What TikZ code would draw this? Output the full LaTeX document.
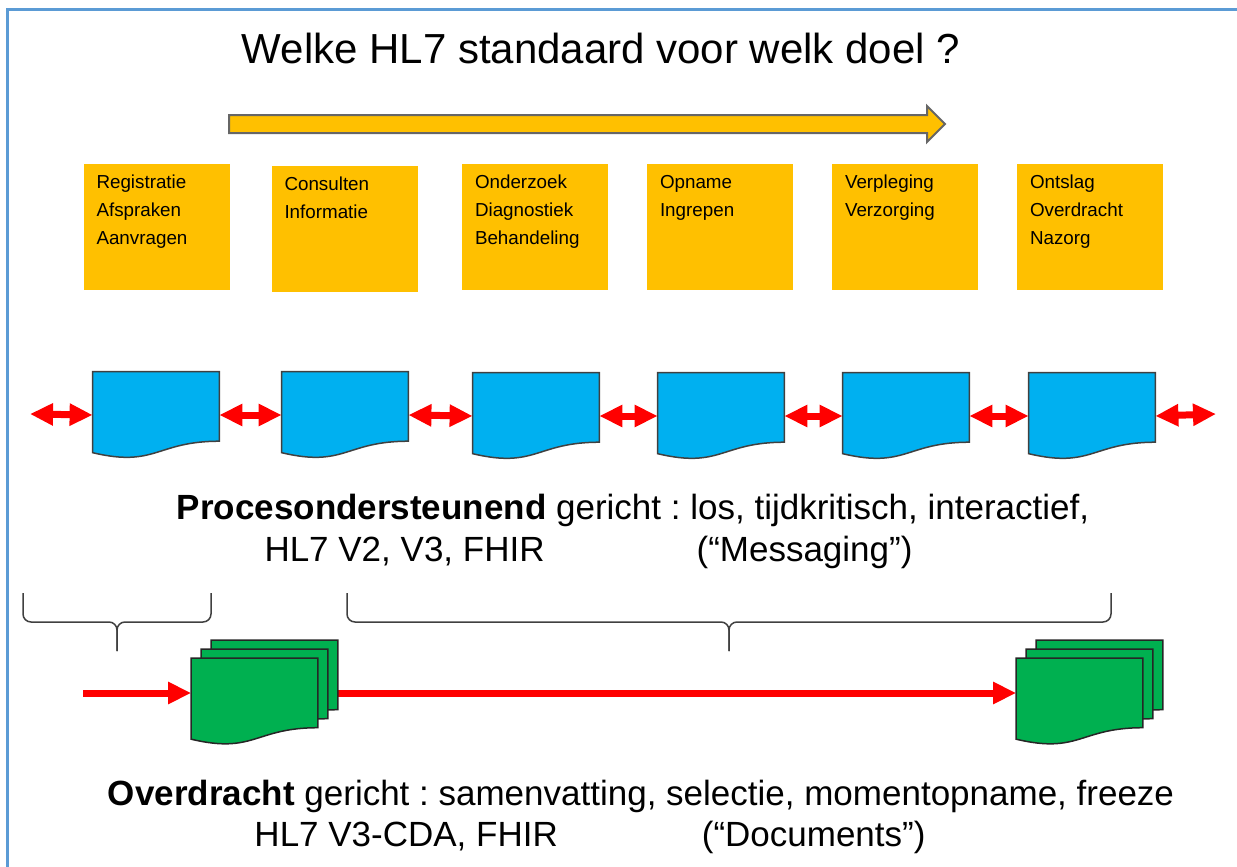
\documentclass[tikz,border=0pt]{standalone}
\usepackage{fontspec}
\setmainfont{Liberation Sans}
\usetikzlibrary{positioning, calc, arrows.meta}

\definecolor{stageorange}{HTML}{FFC000}
\definecolor{msgblue}{HTML}{00B0F0}
\definecolor{docgreen}{HTML}{00B050}
\definecolor{frameblue}{HTML}{5B9BD5}
\definecolor{outlinegray}{HTML}{404040}

\tikzset{
  stage/.style={rectangle, fill=stageorange, minimum width=73pt, minimum height=63pt, inner sep=0pt},
  stagetext/.style={anchor=north west, align=left, inner sep=0pt, font=\fontsize{9.4}{14}\selectfont},
  docbox/.style={rectangle, minimum width=63pt, minimum height=43pt, inner sep=0pt},
  msgdoc/.style={fill=msgblue, draw=outlinegray, line width=0.75pt},
  cdadoc/.style={fill=docgreen, draw=black!85, line width=0.75pt},
  twoway/.style={red, line width=3.5pt, {Triangle[length=11.5pt,width=10.5pt]}-{Triangle[length=11.5pt,width=10.5pt]}},
  oneway/.style={red, line width=3.5pt, -{Triangle[length=11.5pt,width=10.5pt]}},
  bracket/.style={outlinegray, line width=0.75pt, rounded corners=4pt},
  bigtext/.style={font=\fontsize{17.5}{21}\selectfont, anchor=base, inner sep=0pt}
}

% flowchart document outline on top of a docbox node
\newcommand{\docshape}[2]{%
  \filldraw[#1] (#2.north west) -- (#2.north east)
    -- ($(#2.north east)!0.802!(#2.south east)$)
    .. controls ($(#2.north)!0.802!(#2.south)$) and ($(#2.north)!1.108!(#2.south)$)
    .. ($(#2.north west)!0.934!(#2.south west)$) -- cycle;}

\begin{document}
\frenchspacing
\begin{tikzpicture}[x=0.5pt, y=-0.5pt]
    \useasboundingbox (0,0) rectangle (1237,867);
    \draw[frameblue, line width=1.5pt] (7,9) rectangle (1260,890);

    % title and time arrow
    \node[font=\fontsize{21}{25}\selectfont, anchor=base, inner sep=0pt] (title) at (601,63) {Welke HL7 standaard voor welk doel ?};
    \filldraw[fill=stageorange, draw=outlinegray!80, line width=1pt, line join=miter]
        (229,115) -- (927,115) -- (927,106) -- (945,124) -- (927,142) -- (927,133) -- (229,133) -- cycle;

    % care process stages
    \node[stage] (s1) at (156.5,227) {};
    \node[stage] (s2) at (344.5,229) {};
    \node[stage] (s3) at (535,227) {};
    \node[stage] (s4) at (720,227) {};
    \node[stage] (s5) at (905,227) {};
    \node[stage] (s6) at (1090,227) {};
    \node[stagetext] (t1) at ([xshift=6.5pt,yshift=-5.5pt]s1.north west) {Registratie\\Afspraken\\Aanvragen};
    \node[stagetext] (t2) at ([xshift=6.5pt,yshift=-5.5pt]s2.north west) {Consulten\\Informatie};
    \node[stagetext] (t3) at ([xshift=6.5pt,yshift=-5.5pt]s3.north west) {Onderzoek\\Diagnostiek\\Behandeling};
    \node[stagetext] (t4) at ([xshift=6.5pt,yshift=-5.5pt]s4.north west) {Opname\\Ingrepen};
    \node[stagetext] (t5) at ([xshift=6.5pt,yshift=-5.5pt]s5.north west) {Verpleging\\Verzorging};
    \node[stagetext] (t6) at ([xshift=6.5pt,yshift=-5.5pt]s6.north west) {Ontslag\\Overdracht\\Nazorg};

    % messaging row
    \node[docbox] (b1) at (156,415) {};
    \node[docbox] (b2) at (345,415) {};
    \node[docbox] (b3) at (536,416) {};
    \node[docbox] (b4) at (721,416) {};
    \node[docbox] (b5) at (906,416) {};
    \node[docbox] (b6) at (1092,416) {};
    \foreach \b in {b1,b2,b3,b4,b5,b6} {\docshape{msgdoc}{\b}}
    \coordinate (msgin) at (30,414);
    \coordinate (msgout) at (1216,414);
    \draw[twoway] (msgin) -- (b1.west);
    \foreach \a/\b in {b1/b2,b2/b3,b3/b4,b4/b5,b5/b6} {\draw[twoway] (\a.east) -- (\b.west);}
    \draw[twoway] (b6.east) -- (msgout);

    \node[bigtext] (msgline1) at (633,519) {\textbf{Procesondersteunend} gericht : los, tijdkritisch, interactief,};
    \node[bigtext] (msgline2) at (588.5,561) {HL7 V2, V3, FHIR\hspace{76pt}(“Messaging”)};

    % braces
    \draw[bracket] (23,593) -- (23,622) -- (117,622) -- (117,651);
    \draw[bracket] (211,593) -- (211,622) -- (117,622) -- (117,651);
    \draw[bracket] (347,593) -- (347,622) -- (729,622) -- (729,651);
    \draw[bracket] (1111,593) -- (1111,622) -- (729,622) -- (729,651);

    % document stacks
    \node[docbox] (g1) at (254.5,701.5) {};
    \node[docbox] (g1m) at ([xshift=5pt,yshift=4.5pt]g1.center) {};
    \node[docbox] (g1b) at ([xshift=10pt,yshift=9pt]g1.center) {};
    \node[docbox] (g2) at (1079.5,701.5) {};
    \node[docbox] (g2m) at ([xshift=5pt,yshift=4.5pt]g2.center) {};
    \node[docbox] (g2b) at ([xshift=10pt,yshift=9pt]g2.center) {};
    \coordinate (cdain) at (83,693);
    \draw[oneway] (cdain) -- ([yshift=4.25pt]g1.west);
    \draw[oneway] ([yshift=4.25pt]g1.east) -- ([yshift=4.25pt]g2.west);
    \foreach \g in {g1b,g1m,g1,g2b,g2m,g2} {\docshape{cdadoc}{\g}}

    \node[bigtext] (cdaline1) at (641,805) {\textbf{Overdracht} gericht : samenvatting, selectie, momentopname, freeze};
    \node[bigtext] (cdaline2) at (590,846) {HL7 V3-CDA, FHIR\hspace{72pt}(“Documents”)};
\end{tikzpicture}
\end{document}
